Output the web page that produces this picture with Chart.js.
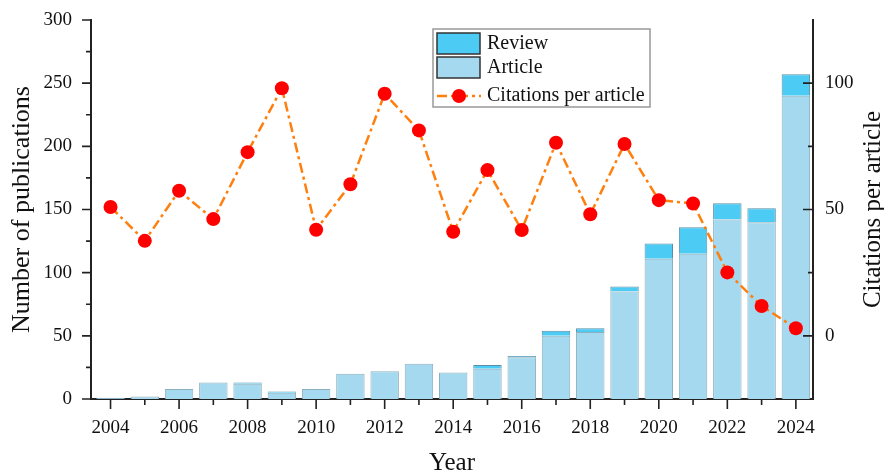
<!DOCTYPE html>
<html>
<head>
<meta charset="utf-8">
<script src="https://cdn.jsdelivr.net/npm/chart.js@4.4.1/dist/chart.umd.min.js"></script>
<style>
  body { margin: 0; background: #fff; }
</style>
</head>
<body>
<canvas id="pubChart" width="884" height="473"></canvas>
<script>
const years = [2004, 2005, 2006, 2007, 2008, 2009, 2010, 2011, 2012, 2013, 2014,
               2015, 2016, 2017, 2018, 2019, 2020, 2021, 2022, 2023, 2024];
const articles = [1, 2, 8, 13, 12, 5, 8, 20, 22, 28, 21, 24, 33, 50, 53, 85, 111, 115, 142, 140, 240];
const reviews = [0, 0, 0, 0, 1, 1, 0, 0, 0, 0, 0, 3, 1, 4, 3, 4, 12, 21, 13, 11, 17];
const citations = [51, 37.6, 57.4, 46.2, 72.7, 98, 42, 60, 95.8, 81.3, 41.2,
                   65.6, 41.9, 76.4, 48.1, 75.9, 53.7, 52.4, 25.1, 11.8, 3];
const pubTickLabels = [0, 50, 100, 150, 200, 250, 300];
const citeTickLabels = [0, 50, 100];

const serif = '"Liberation Serif", "Times New Roman", serif';
const reviewColor = '#4ccbf5';
const articleColor = '#a4d9ef';
const lineColor = '#ff7f0e';
const dotColor = '#ff0000';
const dashDot = [10, 4, 3, 4];

// tick marks (major/minor) and the right-hand axis title
const tickMarks = {
    id: 'tickMarks',
    afterDraw: function(chart) {
        const ctx = chart.ctx;
        const x = chart.scales.x, y = chart.scales.y, y1 = chart.scales.y1;
        ctx.save();
        ctx.strokeStyle = '#222';
        ctx.lineWidth = 1.6;
        ctx.beginPath();
        years.forEach(function(yr) {
            const px = x.getPixelForValue(yr);
            const len = yr % 2 === 0 ? 10 : 6;
            ctx.moveTo(px, x.top);
            ctx.lineTo(px, x.top + len);
        });
        for (let v = 0; v <= 300; v += 25) {
            const py = y.getPixelForValue(v);
            ctx.moveTo(y.right, py);
            ctx.lineTo(y.right - (v % 50 === 0 ? 9 : 5), py);
        }
        for (let v = 0; v <= 100; v += 25) {
            const py = y1.getPixelForValue(v);
            ctx.moveTo(y1.left, py);
            ctx.lineTo(y1.left - (v % 50 === 0 ? 10 : 5), py);
        }
        ctx.stroke();

        ctx.translate(873, (chart.chartArea.top + chart.chartArea.bottom) / 2);
        ctx.rotate(-Math.PI / 2);
        ctx.font = '25px ' + serif;
        ctx.fillStyle = '#111';
        ctx.textAlign = 'center';
        ctx.textBaseline = 'middle';
        ctx.fillText('Citations per article', 0, 0);
        ctx.restore();
    }
};

// boxed legend inside the plot
const boxLegend = {
    id: 'boxLegend',
    afterDraw: function(chart) {
        const ctx = chart.ctx;
        const bx = 433, by = 29, bw = 217, bh = 78;
        ctx.save();
        ctx.fillStyle = '#fff';
        ctx.fillRect(bx, by, bw, bh);
        ctx.strokeStyle = '#999';
        ctx.lineWidth = 1.5;
        ctx.strokeRect(bx, by, bw, bh);

        ctx.lineWidth = 1.5;
        ctx.strokeStyle = '#333';
        ctx.fillStyle = reviewColor;
        ctx.fillRect(437, 33, 43, 21);
        ctx.strokeRect(437, 33, 43, 21);
        ctx.fillStyle = articleColor;
        ctx.fillRect(437, 57, 43, 21);
        ctx.strokeRect(437, 57, 43, 21);

        ctx.strokeStyle = lineColor;
        ctx.lineWidth = 2.5;
        ctx.setLineDash(dashDot);
        ctx.beginPath();
        ctx.moveTo(437, 96);
        ctx.lineTo(481, 96);
        ctx.stroke();
        ctx.setLineDash([]);
        ctx.fillStyle = dotColor;
        ctx.beginPath();
        ctx.arc(459, 96, 7, 0, Math.PI * 2);
        ctx.fill();

        ctx.fillStyle = '#111';
        ctx.font = '20px ' + serif;
        ctx.textAlign = 'left';
        ctx.textBaseline = 'middle';
        ctx.fillText('Review', 487, 44);
        ctx.fillText('Article', 487, 68);
        ctx.fillText('Citations per article', 487, 96);
        ctx.restore();
    }
};

const ctx = document.getElementById('pubChart').getContext('2d');
new Chart(ctx, {
    type: 'bar',
    data: {
        labels: years,
        datasets: [{
            label: 'Citations per article',
            type: 'line',
            data: citations,
            yAxisID: 'y1',
            borderColor: lineColor,
            borderWidth: 2.5,
            borderDash: dashDot,
            pointRadius: 7,
            pointBackgroundColor: dotColor,
            pointBorderColor: dotColor,
            pointBorderWidth: 0,
            tension: 0,
            order: 0
        }, {
            label: 'Article',
            data: articles,
            yAxisID: 'y',
            backgroundColor: articleColor,
            borderColor: '#8eaebd',
            borderWidth: 1,
            categoryPercentage: 1,
            barPercentage: 0.83,
            order: 1
        }, {
            label: 'Review',
            data: reviews,
            yAxisID: 'y',
            backgroundColor: reviewColor,
            borderColor: '#5a8ca3',
            borderWidth: 1,
            categoryPercentage: 1,
            barPercentage: 0.83,
            order: 1
        }]
    },
    options: {
        responsive: false,
        animation: false,
        layout: { padding: { top: 20, left: 0, right: 0, bottom: 0 } },
        plugins: {
            legend: { display: false },
            tooltip: { enabled: false }
        },
        scales: {
            x: {
                type: 'linear',
                offset: false,
                stacked: true,
                min: 2003.43,
                max: 2024.5,
                grid: { display: false, drawTicks: true, tickLength: 18 },
                border: { display: true, color: '#222', width: 2 },
                afterBuildTicks: function(scale) {
                    scale.ticks = years.map(function(yr) { return { value: yr }; });
                },
                ticks: {
                    padding: 0,
                    color: '#111',
                    maxRotation: 0,
                    autoSkip: false,
                    font: { family: serif, size: 19 },
                    callback: function(v) { return v % 2 === 0 ? String(v) : ''; }
                },
                title: {
                    display: true,
                    text: 'Year',
                    color: '#111',
                    font: { family: serif, size: 25 },
                    padding: { top: 0, bottom: -5 }
                },
                afterFit: function(scale) { scale.height = 74; }
            },
            y: {
                position: 'left',
                stacked: true,
                min: 0,
                max: 300,
                grid: { display: false, drawTicks: true, tickLength: 19 },
                border: { display: true, color: '#222', width: 2 },
                ticks: {
                    stepSize: 25,
                    padding: 0,
                    color: '#111',
                    font: { family: serif, size: 19 },
                    callback: function(v) { return pubTickLabels.includes(v) ? String(v) : ''; }
                },
                title: {
                    display: true,
                    text: 'Number of publications',
                    color: '#111',
                    font: { family: serif, size: 26 },
                    padding: { top: 7, bottom: 0 }
                },
                afterFit: function(scale) { scale.width = 91; }
            },
            y1: {
                position: 'right',
                min: -25,
                max: 125,
                grid: { display: false, drawTicks: true, tickLength: 12 },
                border: { display: true, color: '#222', width: 2 },
                ticks: {
                    stepSize: 25,
                    padding: 0,
                    color: '#111',
                    font: { family: serif, size: 19 },
                    callback: function(v) { return citeTickLabels.includes(v) ? String(v) : ''; }
                },
                afterFit: function(scale) { scale.width = 71; }
            }
        }
    },
    plugins: [tickMarks, boxLegend]
});
</script>
</body>
</html>
